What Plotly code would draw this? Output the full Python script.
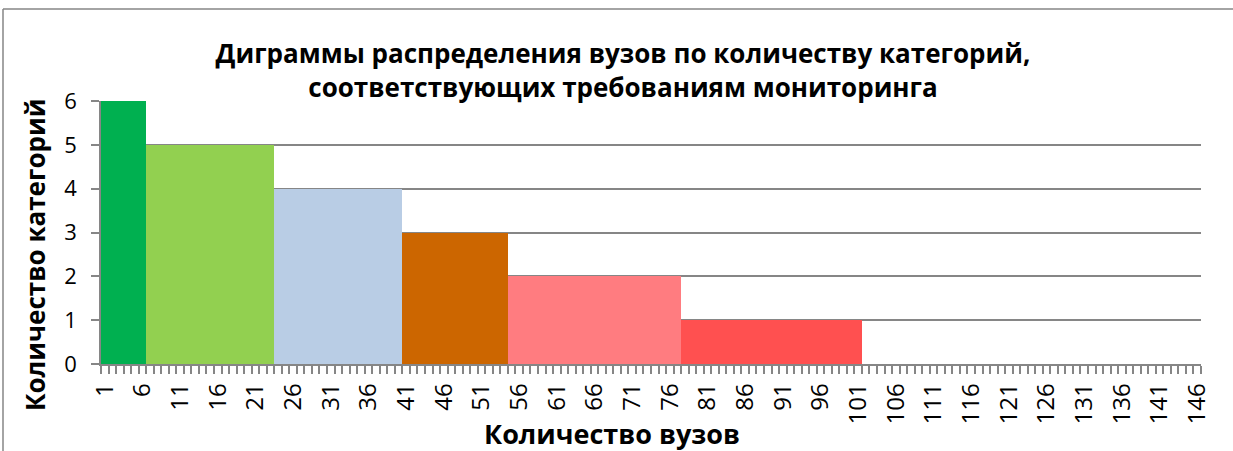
import plotly.graph_objects as go

# Data
group_first = [1, 7, 24, 41, 55, 78]
group_last = [6, 23, 40, 54, 77, 101]
group_values = [6, 5, 4, 3, 2, 1]
group_colors = ["#00B050", "#92D050", "#B9CDE5", "#CC6600", "#FF7C80", "#FF5050"]
n_categories = 146
tick_labels = [str(v) for v in range(1, n_categories + 1, 5)]

title_text = "Диграммы распределения вузов по количеству категорий,<br>соответствующих требованиям мониторинга"
x_title = "Количество вузов"
y_title = "Количество категорий"

fig = go.Figure()
for a, b, v, c in zip(group_first, group_last, group_values, group_colors):
    xs = list(range(a, b + 1))
    fig.add_trace(go.Bar(x=xs, y=[v] * len(xs), marker=dict(color=c, line=dict(width=0)),
                         width=1.0, showlegend=False, hoverinfo="skip"))

W, H = 1233, 451
L, R, T, B = 101, 32, 101, 87
pw, ph = W - L - R, H - T - B
FONT = "Open Sans"

fig.update_layout(
    width=W, height=H,
    margin=dict(l=L, r=R, t=T, b=B, autoexpand=False),
    paper_bgcolor="white", plot_bgcolor="white",
    bargap=0, barmode="overlay",
    font=dict(family=FONT, color="black"),
    title=dict(text=title_text, x=(623 - L) / pw, xref="paper", xanchor="center",
               y=1 - 63 / H, yanchor="middle",
               font=dict(size=26, family=FONT, color="black", weight="bold")),
    xaxis=dict(range=[0.5, n_categories + 0.5], tickmode="array",
               tickvals=[int(t) for t in tick_labels], ticktext=tick_labels,
               tickangle=-90, ticks="", showgrid=False, zeroline=False, automargin=False,
               showline=True, linecolor="#868686", linewidth=1.5, ticklabelstandoff=8,
               tickfont=dict(size=24, family=FONT, color="black"),
               minor=dict(ticks="outside", tick0=0.5, dtick=1, ticklen=8,
                          tickcolor="#868686", tickwidth=1.5, showgrid=False)),
    yaxis=dict(range=[0, 6], dtick=1, ticks="outside", ticklen=8, tickcolor="#868686",
               tickwidth=1.5, showline=True, linecolor="#868686", linewidth=1.5,
               showgrid=True, gridcolor="#868686", gridwidth=1.5, zeroline=False,
               automargin=False, ticklabelstandoff=10,
               tickfont=dict(size=22, family=FONT, color="black")),
)

# axis titles as annotations for exact placement
fig.add_annotation(text=x_title, xref="paper", yref="paper", x=(612 - L) / pw,
                   y=-(433 - (T + ph)) / ph, xanchor="center", yanchor="middle",
                   showarrow=False, font=dict(size=27, family=FONT, color="black", weight="bold"))
fig.add_annotation(text=y_title, xref="paper", yref="paper", x=(35 - L) / pw,
                   y=1 - (255 - T) / ph, xanchor="center", yanchor="middle", textangle=-90,
                   showarrow=False, font=dict(size=26, family=FONT, color="black", weight="bold"))

# outer chart border (left and top visible)
bx = (3 - L) / pw
by = 1 + (T - 9) / ph
fig.add_shape(type="line", xref="paper", yref="paper", x0=bx, x1=bx, y0=by, y1=-2,
              line=dict(color="#868686", width=1.5))
fig.add_shape(type="line", xref="paper", yref="paper", x0=bx, x1=2, y0=by, y1=by,
              line=dict(color="#868686", width=1.5))

fig.write_html("out.html", config={"displayModeBar": False},
               post_script="document.body.style.margin='0';")
